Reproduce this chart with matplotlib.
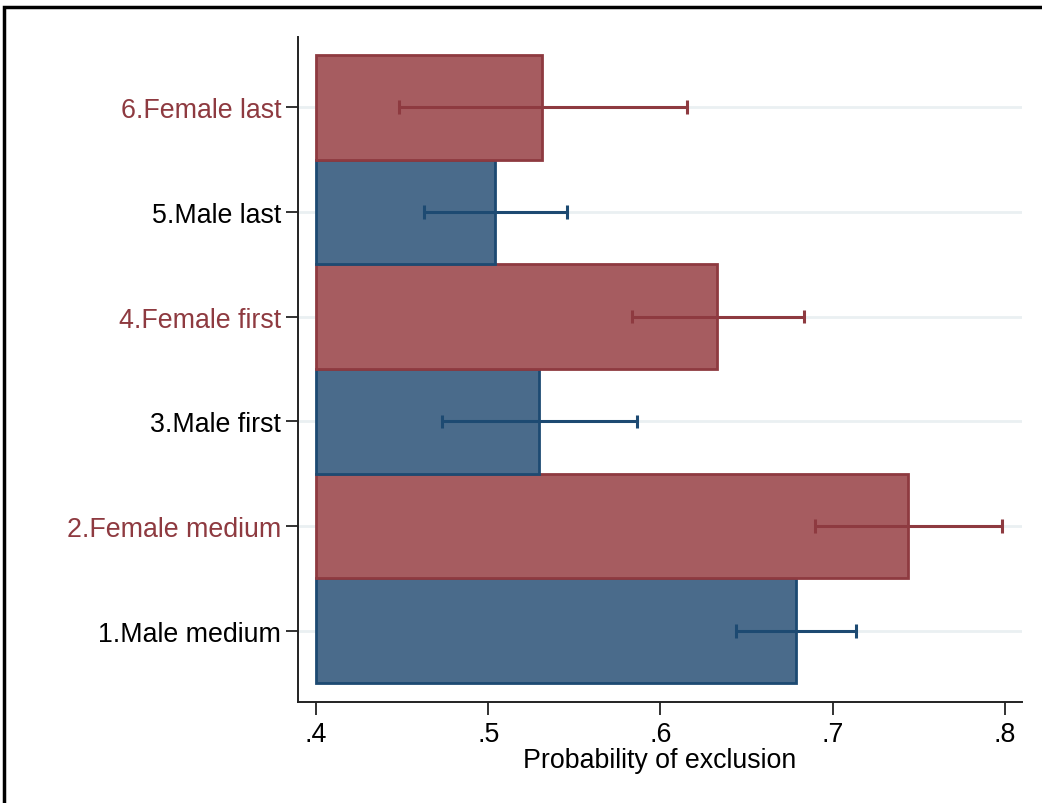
import matplotlib.pyplot as plt
import matplotlib.patches as mpatches
import numpy as np

plt.rcParams["font.family"] = ["Liberation Sans", "DejaVu Sans"]

# predicted probability of exclusion with 95% CI, by group
groups = ["1.Male medium", "2.Female medium", "3.Male first",
          "4.Female first", "5.Male last", "6.Female last"]
prob = [0.6787, 0.7437, 0.5295, 0.6328, 0.5039, 0.5312]
ci_low = [0.6438, 0.6897, 0.4732, 0.5835, 0.4627, 0.4482]
ci_high = [0.7135, 0.7983, 0.5864, 0.6833, 0.5457, 0.6154]
female = [False, True, False, True, False, True]

NAVY_FILL, NAVY_LINE = "#4a6b8b", "#1d4a72"
MAROON_FILL, MAROON_LINE = "#a65c60", "#8e3a40"
BASE = 0.4
FS = 19.3


def main():
    fig = plt.figure(figsize=(10.42, 8.04), dpi=100)
    ax = fig.add_axes([0.286, 0.1256, 0.695, 0.8271])

    y = np.arange(1, len(groups) + 1)
    fills = [MAROON_FILL if f else NAVY_FILL for f in female]
    lines = [MAROON_LINE if f else NAVY_LINE for f in female]

    # light horizontal grid at each category
    for yi in y:
        ax.axhline(yi, color="#eaf0f2", lw=2, zorder=0)

    widths = np.array(prob) - BASE
    ax.barh(y, widths, left=BASE, height=1.0, color=fills,
            edgecolor=lines, linewidth=2, zorder=2)

    for yi, lo, hi, c in zip(y, ci_low, ci_high, lines):
        ax.plot([lo, hi], [yi, yi], color=c, lw=2.2, zorder=3,
                solid_capstyle="butt")
        for xe in (lo, hi):
            ax.plot([xe, xe], [yi - 0.065, yi + 0.065], color=c, lw=2.2,
                    zorder=3, solid_capstyle="butt")

    ax.set_xlim(0.3896, 0.81)
    ax.set_ylim(0.32, 6.67)

    ticks = [0.4, 0.5, 0.6, 0.7, 0.8]
    ax.set_xticks(ticks)
    ax.set_xticklabels([".4", ".5", ".6", ".7", ".8"], fontsize=FS)
    ax.set_yticks(y)
    ax.set_yticklabels(groups, fontsize=FS)
    for lab, f in zip(ax.get_yticklabels(), female):
        lab.set_color(MAROON_LINE if f else "black")

    ax.tick_params(axis="both", direction="out", length=9, width=1.3,
                   color="#222222")
    ax.tick_params(axis="x", pad=5)
    ax.tick_params(axis="y", pad=3)
    ax.set_xlabel("Probability of exclusion", fontsize=FS, labelpad=0)

    for side in ("top", "right"):
        ax.spines[side].set_visible(False)
    for side in ("left", "bottom"):
        ax.spines[side].set_linewidth(1.4)
        ax.spines[side].set_color("#222222")

    # outer frame around the graph region
    frame = mpatches.Rectangle((4 / 1042, -0.05), 1.2, 1 - 8 / 804 + 0.05,
                               transform=fig.transFigure, fill=False,
                               edgecolor="black", linewidth=2.5,
                               clip_on=False)
    fig.patches.append(frame)

    fig.savefig("out.png", dpi=100)
    plt.close(fig)


if __name__ == "__main__":
    main()
